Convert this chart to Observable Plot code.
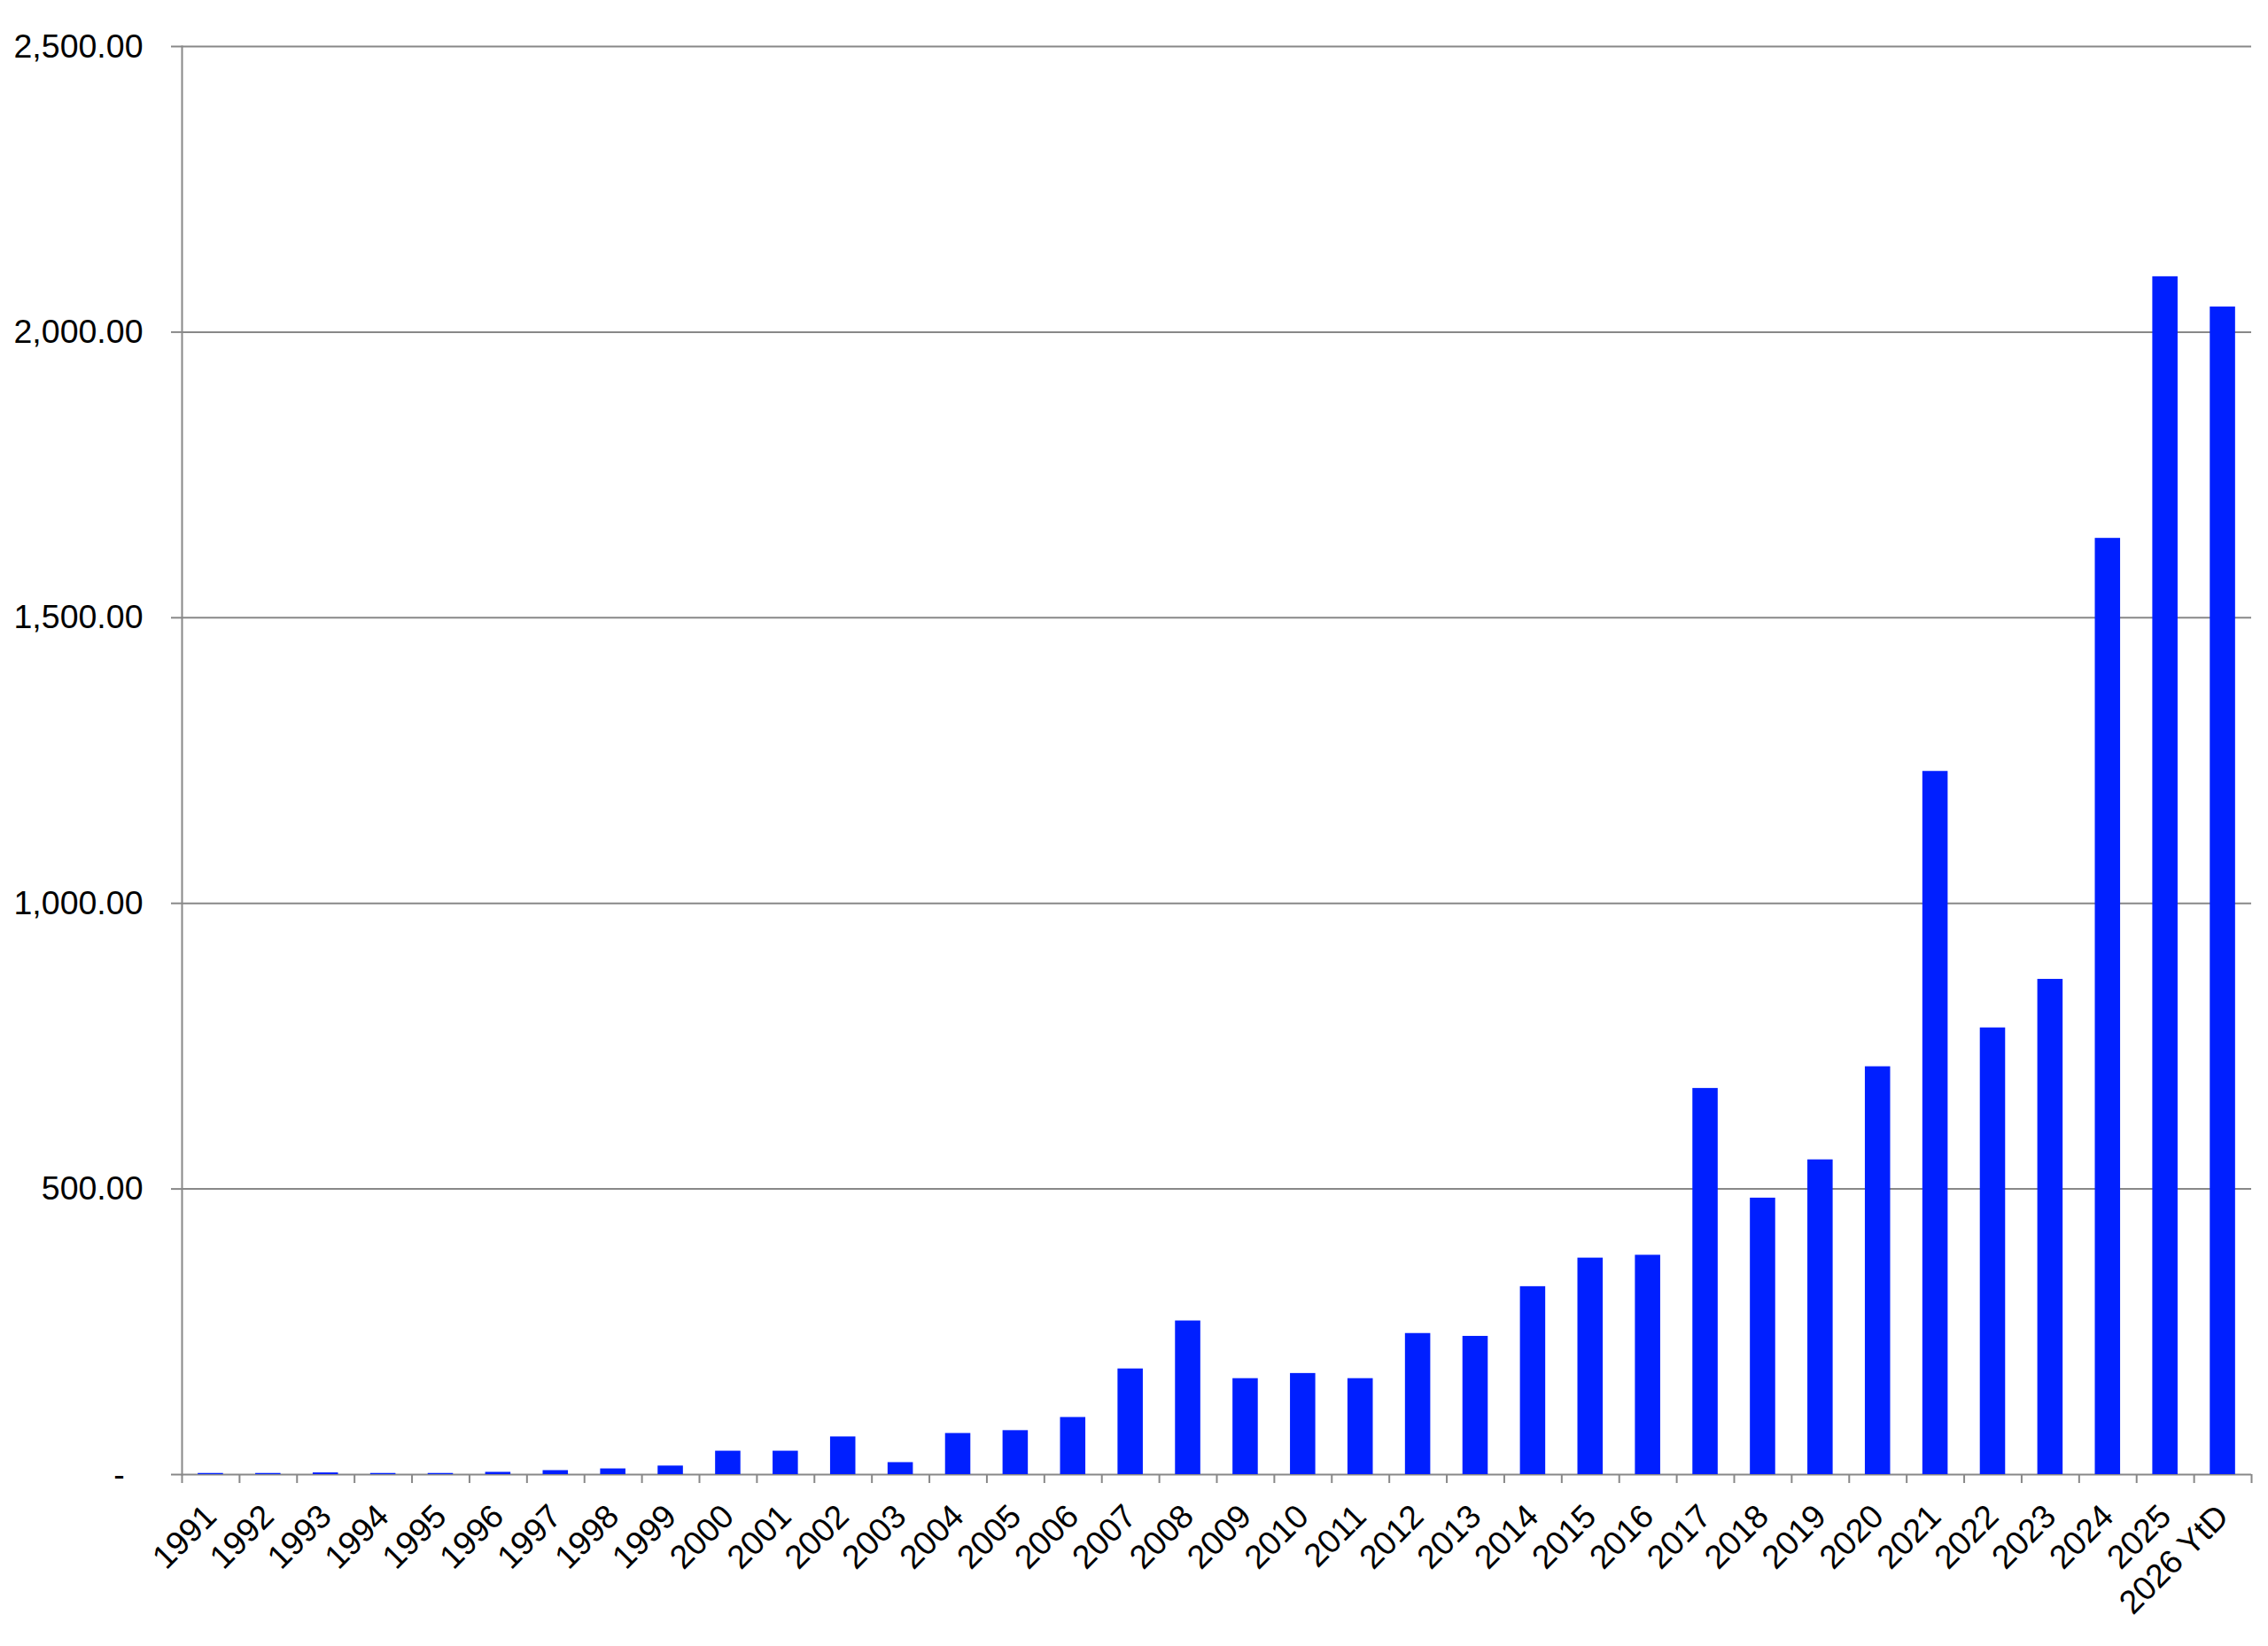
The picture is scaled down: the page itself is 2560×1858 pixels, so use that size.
<!DOCTYPE html>
<html>
<head>
<meta charset="utf-8">
<script src="https://cdn.jsdelivr.net/npm/d3@7"></script>
<script src="https://cdn.jsdelivr.net/npm/@observablehq/plot@0.6"></script>
<style>
  html, body { margin: 0; padding: 0; background: #fff; }
</style>
</head>
<body>
<div id="chart"></div>
<script>
const categories = ["1991","1992","1993","1994","1995","1996","1997","1998","1999","2000",
  "2001","2002","2003","2004","2005","2006","2007","2008","2009","2010",
  "2011","2012","2013","2014","2015","2016","2017","2018","2019","2020",
  "2021","2022","2023","2024","2025","2026 YtD"];
const values = [2, 2, 3, 2, 2, 4, 7, 10, 15, 41,
  41, 66, 21, 72, 77, 100, 185, 269, 168, 177,
  168, 247, 242, 329, 379, 384, 676, 484, 551, 714,
  1231, 782, 867, 1639, 2097, 2044];
const yTicks = [0, 500, 1000, 1500, 2000, 2500];

const data = categories.map((c, i) => ({year: c, value: values[i]}));

const W = 2560, H = 1858;
const mL = 205, mR = 19, mT = 52, mB = 194;
const step = (W - mL - mR) / categories.length;
const gray = "#888888";
const fmt = d => d === 0 ? "-\u00a0\u00a0" : d3.format(",.2f")(d);

const chart = Plot.plot({
  width: W, height: H,
  marginLeft: mL, marginRight: mR, marginTop: mT, marginBottom: mB,
  style: {fontFamily: "'Liberation Sans', Arial, sans-serif", fontSize: "37.5px", color: "#000", background: "#fff"},
  x: {domain: categories, paddingInner: 0.56, paddingOuter: 0.28, axis: null},
  y: {domain: [0, 2500], axis: null},
  marks: [
    Plot.gridY(yTicks, {stroke: gray, strokeOpacity: 1, strokeWidth: 2}),
    Plot.barY(data, {x: "year", y: "value", fill: "#001fff"}),
    Plot.frame({anchor: "left", stroke: gray, strokeWidth: 2}),
    Plot.axisY(yTicks, {tickSize: 12, tickPadding: 32, stroke: gray, strokeWidth: 2, fill: "#000", tickFormat: fmt, label: null, fontSize: 37.5}),
    Plot.axisX(categories, {tickSize: 10, stroke: gray, strokeWidth: 2, tickFormat: () => "", dx: -step / 2, label: null}),
    Plot.axisX([categories[categories.length - 1]], {tickSize: 10, stroke: gray, strokeWidth: 2, tickFormat: () => "", dx: step / 2, label: null}),
    Plot.axisX(categories, {tickSize: 0, tickPadding: 41, tickRotate: -45, textAnchor: "end", lineAnchor: "middle", fill: "#000", fontSize: 37.5, label: null})
  ]
});
document.getElementById("chart").appendChild(chart);
</script>
</body>
</html>
